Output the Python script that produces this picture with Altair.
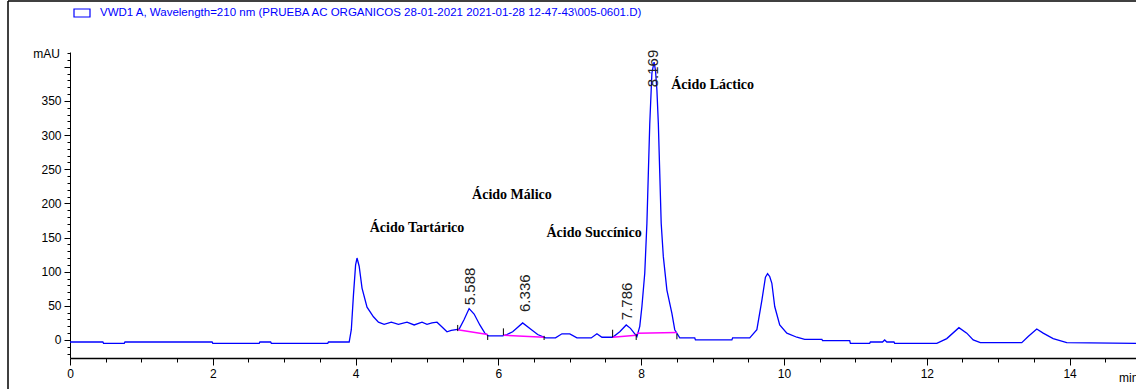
import altair as alt
import pandas as pd

# ---- chromatogram trace (min, mAU) ----
TIME = [0, 0.46, 0.47, 0.76, 0.77, 1.99, 2.0, 2.65, 2.66, 2.81, 2.82, 3.61, 3.62, 3.91,
        3.94, 3.97, 4.0, 4.02, 4.05, 4.09, 4.16, 4.25, 4.32, 4.4, 4.5, 4.6, 4.72, 4.82,
        4.93, 5.0, 5.07, 5.14, 5.2, 5.28, 5.34, 5.45, 5.52, 5.59, 5.66, 5.74, 5.81, 5.86,
        6.06, 6.12, 6.2, 6.34, 6.45, 6.55, 6.66, 6.8, 6.89, 7.0, 7.1, 7.3, 7.38, 7.45,
        7.6, 7.7, 7.79, 7.85, 7.91, 7.94, 7.98, 8.01, 8.05, 8.08, 8.1, 8.12, 8.15, 8.18,
        8.2, 8.22, 8.24, 8.26, 8.28, 8.31, 8.36, 8.43, 8.47, 8.54, 8.75, 8.76, 9.27, 9.28,
        9.52, 9.62, 9.69, 9.74, 9.77, 9.8, 9.83, 9.87, 9.94, 10.04, 10.18, 10.29, 10.53,
        10.54, 10.92, 10.93, 11.2, 11.21, 11.38, 11.41, 11.44, 11.54, 11.55, 12.14, 12.28,
        12.45, 12.56, 12.65, 12.75, 13.33, 13.42, 13.54, 13.63, 13.77, 13.96, 14.93]
SIGNAL = [-3, -3, -5, -5, -3, -3, -5, -5, -3, -3, -5, -5, -3, -3,
          15, 66, 110, 120, 108, 76, 48, 34, 26, 23, 26, 23, 26, 22,
          26, 23, 25, 26, 20, 12, 14, 16, 30, 46, 38, 22, 10, 6,
          6, 8, 12, 25, 16, 8, 3, 3, 9, 9, 3, 3, 9, 4,
          4, 12, 22, 17, 9, 5, 20, 49, 98, 171, 244, 317, 391, 407,
          395, 366, 317, 244, 171, 122, 73, 39, 15, 3, 3, 0, 0, 3,
          3, 15, 58, 92, 97, 93, 83, 49, 22, 10, 4, 1, 1,
          -1, -1, -5, -5, -3, -3, 0, -3, -3, -5, -5, 2,
          18, 10, 0, -4, -4, 5, 16, 10, 2, -4, -5]

# ---- integration baselines (pink) ----
BASE_SEG = ["a", "a", "b", "b", "c", "c", "d", "d"]
BASE_T = [5.43, 5.85, 6.07, 6.64, 7.60, 7.93, 7.94, 8.50]
BASE_V = [15, 8, 7, 4, 4, 7, 10, 11]

# ---- peak start/end tick marks ----
TICK_T = [5.43, 5.85, 6.07, 6.64, 7.60, 7.93, 8.50]
TICK_LO = [13, 0, 7, 0, 4, 0, 1]
TICK_HI = [22, 7, 17, 6, 15, 9, 9]

# ---- retention-time labels ----
RT_LABEL = ["5.588", "6.336", "7.786", "8.169"]
RT_T = [5.60, 6.37, 7.80, 8.17]
RT_V = [51, 41, 29, 370]

# ---- compound names ----
NAME = ["Ácido Tartárico", "Ácido Málico", "Ácido Succínico", "Ácido Láctico"]
NAME_T = [4.86, 6.19, 7.34, 9.0]
NAME_V = [164, 212, 157, 373]

TITLE = "VWD1 A, Wavelength=210 nm (PRUEBA AC ORGANICOS 28-01-2021 2021-01-28 12-47-43\\005-0601.D)"

W, H = 1066, 306
XDOM = [0, 14.93]
YDOM = [-26.4, 421.7]
FONT = "Liberation Sans"

xs = alt.Scale(domain=XDOM, nice=False, zero=False)
ys = alt.Scale(domain=YDOM, nice=False, zero=False)

trace_df = pd.DataFrame({"t": TIME, "mAU": SIGNAL})
base_df = pd.DataFrame({"seg": BASE_SEG, "t": BASE_T, "mAU": BASE_V})
tick_df = pd.DataFrame({"t": TICK_T, "mAU": TICK_LO, "hi": TICK_HI})
rt_df = pd.DataFrame({"label": RT_LABEL, "t": RT_T, "mAU": RT_V})
name_df = pd.DataFrame({"name": NAME, "t": NAME_T, "mAU": NAME_V})
one = pd.DataFrame({"k": [0]})

x_axis = alt.Axis(
    values=[i * 0.5 for i in range(30)],
    labelExpr="datum.value % 2 === 0 ? format(datum.value, 'd') : ''",
    tickSize={"condition": {"test": "datum.value % 2 === 0", "value": 7}, "value": 4},
    grid=False, title=None, domainColor="black", domainWidth=1.5, tickColor="black",
    labelColor="black", labelFont=FONT, labelFontSize=12, labelPadding=3,
    labelFlush=False, labelOverlap=False,
)
y_axis = alt.Axis(
    values=list(range(-20, 421, 10)),
    labelExpr="(datum.value % 50 === 0 && datum.value >= 0 && datum.value <= 350) ? format(datum.value, 'd') : ''",
    tickSize={"condition": {"test": "datum.value % 50 === 0", "value": 6}, "value": 3},
    grid=False, title=None, domainColor="black", tickColor="black",
    labelColor="black", labelFont=FONT, labelFontSize=12, labelPadding=3,
    labelFlush=False, labelOverlap=False,
)

X = alt.X("t:Q", scale=xs, axis=x_axis, title=None)
Y = alt.Y("mAU:Q", scale=ys, axis=y_axis, title=None)

trace = alt.Chart(trace_df).mark_line(color="#0000ff", strokeWidth=1.3, interpolate="linear").encode(
    x=X, y=Y, order="t:Q",
)

baselines = alt.Chart(base_df).mark_line(color="#ff00ff", strokeWidth=1.5).encode(
    x=X, y=Y, detail="seg:N",
)

ticks = alt.Chart(tick_df).mark_rule(color="black", strokeWidth=1).encode(
    x=X, y=Y, y2="hi:Q",
)

rt = alt.Chart(rt_df).mark_text(
    angle=270, align="left", baseline="middle", font=FONT, fontSize=15, color="#222222"
).encode(x=X, y=Y, text="label:N")

names = alt.Chart(name_df).mark_text(
    align="center", baseline="middle", font="Liberation Serif", fontSize=14,
    fontWeight="bold", color="black"
).encode(x=X, y=Y, text="name:N")

# decorations: legend box + title, axis unit labels, frame
legend_box = alt.Chart(one).mark_rect(fill="white", stroke="#0000ff", strokeWidth=1.2).encode(
    x=alt.value(4), x2=alt.value(20), y=alt.value(-43), y2=alt.value(-35)
)
legend_txt = alt.Chart(one).mark_text(
    text=TITLE, align="left", baseline="middle", font=FONT, fontSize=11.5, color="#0000ff"
).encode(x=alt.value(30), y=alt.value(-39))
mau = alt.Chart(one).mark_text(
    text="mAU", align="right", baseline="middle", font=FONT, fontSize=12, color="black"
).encode(x=alt.value(-10), y=alt.value(2))
mins = alt.Chart(one).mark_text(
    text="min", align="left", baseline="middle", font=FONT, fontSize=12, color="black"
).encode(x=alt.value(1049), y=alt.value(20 + H))
frame_top = alt.Chart(one).mark_rule(color="black", strokeWidth=1.5).encode(
    x=alt.value(-62), x2=alt.value(W), y=alt.value(-51)
)
frame_left = alt.Chart(one).mark_rule(color="black", strokeWidth=1.5).encode(
    x=alt.value(-62), y=alt.value(-51), y2=alt.value(H + 31)
)

chart = alt.layer(
    trace, baselines, ticks, rt, names, legend_box, legend_txt, mau, mins, frame_top, frame_left
).properties(
    width=W, height=H,
    autosize=alt.AutoSizeParams(type="none"),
    padding={"left": 70, "top": 52, "right": 0, "bottom": 31},
    background="white",
).configure_view(stroke=None)

chart.save("out.html", embed_options={"renderer": "svg", "actions": False})
